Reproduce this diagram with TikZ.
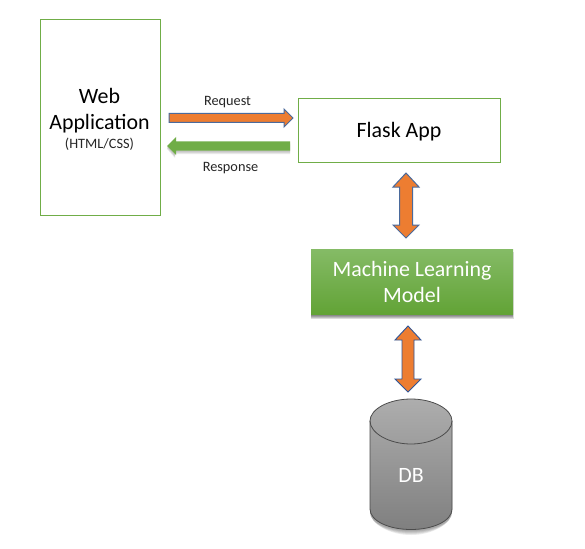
\documentclass[tikz,border=0pt]{standalone}
\usepackage{fontspec}
\setmainfont{Carlito}
\usetikzlibrary{calc}
\definecolor{boxgreen}{HTML}{70AD47}
\definecolor{modeltop}{HTML}{85BB66}
\definecolor{modelbottom}{HTML}{62A336}
\definecolor{arroworange}{HTML}{ED7D31}
\definecolor{arrowblue}{HTML}{4A6A9C}
\definecolor{arrowblueb}{HTML}{2F5597}
\definecolor{inkgrey}{HTML}{262626}
\tikzset{
  x=1pt,y=-1pt,
  plainbox/.style={draw=boxgreen,line width=0.8pt,fill=white,inner sep=0pt,align=center,text=black},
  smalllabel/.style={font=\fontsize{14.3}{16}\selectfont,text=inkgrey,inner sep=0pt},
  singleblock/.style={to path={
    ($(\tikztostart)!#1!90:(\tikztotarget)$) --
    ($(\tikztotarget)!9pt!(\tikztostart)!#1!90:(\tikztotarget)$) --
    ($(\tikztotarget)!9pt!(\tikztostart)!9pt!90:(\tikztotarget)$) --
    (\tikztotarget) --
    ($(\tikztotarget)!9pt!(\tikztostart)!9pt!-90:(\tikztotarget)$) --
    ($(\tikztotarget)!9pt!(\tikztostart)!#1!-90:(\tikztotarget)$) --
    ($(\tikztostart)!#1!-90:(\tikztotarget)$) -- cycle}},
  doubleblock/.style={to path={
    (\tikztostart) --
    ($(\tikztostart)!14pt!(\tikztotarget)!13pt!90:(\tikztotarget)$) --
    ($(\tikztostart)!14pt!(\tikztotarget)!#1!90:(\tikztotarget)$) --
    ($(\tikztotarget)!13pt!(\tikztostart)!#1!-90:(\tikztostart)$) --
    ($(\tikztotarget)!13pt!(\tikztostart)!13pt!-90:(\tikztostart)$) --
    (\tikztotarget) --
    ($(\tikztotarget)!13pt!(\tikztostart)!13pt!90:(\tikztostart)$) --
    ($(\tikztotarget)!13pt!(\tikztostart)!#1!90:(\tikztostart)$) --
    ($(\tikztostart)!14pt!(\tikztotarget)!#1!-90:(\tikztotarget)$) --
    ($(\tikztostart)!14pt!(\tikztotarget)!13pt!-90:(\tikztotarget)$) -- cycle}},
  orangeblock/.style={fill=arroworange,draw=arrowblue,line width=1pt,line join=miter},
  orangeblockb/.style={fill=arroworange,draw=arrowblueb,line width=0.9pt,line join=miter},
  greenblock/.style={fill=boxgreen,draw=none},
  softshadow/.style={fill=black,fill opacity=0.08,draw=none},
  modelshadow/.style={fill=black,fill opacity=0.14,draw=none},
}
\begin{document}
\begin{tikzpicture}
\useasboundingbox (0,0) rectangle (585,548);
\fill[white] (0,0) rectangle (585,548);

% named end points of the block arrows
\coordinate (reqStart) at (169,118);
\coordinate (reqEnd) at (293,118);
\coordinate (respStart) at (290,146);
\coordinate (respEnd) at (167,146);
\coordinate (flaskLink) at (406,173);
\coordinate (modelLinkUp) at (406,238);
\coordinate (modelLinkDown) at (408,326);
\coordinate (dbLink) at (408,392);

% web application and flask boxes
\node[plainbox,minimum width=120pt,minimum height=196pt] (web) at (100,117.5) {};
\node[font=\fontsize{21.9}{26}\selectfont,align=center,inner sep=0pt] (webtitle) at (99.5,110.5) {Web\\Application};
\node[font=\fontsize{14.3}{16}\selectfont,text=inkgrey,inner sep=0pt] (websub) at (99.5,144.5) {(HTML/CSS)};
\node[plainbox,minimum width=202pt,minimum height=64pt] (flask) at (399,130.5) {};
\node[font=\fontsize{21.9}{26}\selectfont,inner sep=0pt] (flasktitle) at (399,131.5) {Flask App};

% machine learning model with soft shadow
\foreach \g in {4,3,2,1,0}{
  \fill[modelshadow] (311.5-0.25*\g,252) rectangle (512.5+0.25*\g,315+\g);
}
\node[minimum width=202pt,minimum height=65pt,inner sep=0pt,draw=none,top color=modeltop,bottom color=modelbottom,align=center,text=white,font=\fontsize{21.9}{26}\selectfont] (model) at (412,281.5) {Machine Learning\\Model};

% database cylinder
\foreach \g in {5,4,3,2,1}{
  \fill[softshadow] (370,424) -- (370,512)
    .. controls (370,524) and (390,530+\g) .. (411,530+\g)
    .. controls (432,530+\g) and (452,524) .. (452,512) -- (452,424) -- cycle;
}
\path[top color=black!32,bottom color=black!50,draw=black!70,line width=0.8pt]
  (370,421) -- (370,509)
  .. controls (370,521) and (389,529.5) .. (411,529.5)
  .. controls (433,529.5) and (452,521) .. (452,509)
  -- (452,421)
  .. controls (452,409) and (433,399) .. (411,399)
  .. controls (389,399) and (370,409) .. (370,421) -- cycle;
\path[draw=black!70,line width=0.8pt]
  (370,421) .. controls (370,433) and (389,444) .. (411,444)
  .. controls (433,444) and (452,433) .. (452,421);
\node[text=white,font=\fontsize{21.9}{24}\selectfont,inner sep=0pt] (db) at (411,475) {DB};

% request and response arrows
\foreach \g in {3,2,1}{
  \fill[softshadow] (290,142+\g) -- (290,151+\g) -- (175,151+\g) -- (175,155+\g) -- (167,146+\g) -- (175,137+\g) -- (175,142+\g) -- cycle;
}
\draw[orangeblock,singleblock=4.5pt] (reqStart) to (reqEnd);
\path[greenblock,singleblock=4.5pt] (respStart) to (respEnd);
\node[smalllabel] (reqlabel) at (227.5,102) {Request};
\node[smalllabel] (resplabel) at (230.5,168) {Response};

% vertical links
\draw[orangeblock,doubleblock=6.5pt] (flaskLink) to (modelLinkUp);
\draw[orangeblockb,doubleblock=6pt] (modelLinkDown) to (dbLink);
\end{tikzpicture}
\end{document}
